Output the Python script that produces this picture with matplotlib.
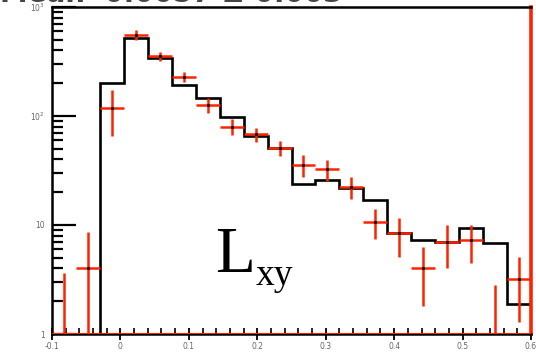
import numpy as np
import matplotlib
matplotlib.use('Agg')
import matplotlib.pyplot as plt
from matplotlib.ticker import FixedLocator, FixedFormatter, MultipleLocator

# L_xy distribution: 20 bins from -0.1 to 0.6
bin_lo = -0.1
bin_hi = 0.6
n_bins = 20

# simulation (black histogram)
mc = [0, 0, 201, 520, 341, 192, 146, 98, 66, 51,
      24, 26, 22, 17, 8.4, 7.3, 7.0, 9.4, 6.8, 1.9]

# data points with errors (red)
data = [0, 4.0, 118, 553, 355, 228, 126, 79, 68, 51,
        35.5, 32.6, 22.3, 10.7, 8.4, 4.0, 7.0, 7.3, 0, 3.2]
err_lo = [0, 4.0, 52, 55, 35, 25, 20, 12, 10, 8,
          8, 7, 5, 3.3, 3.3, 2.2, 3, 2.8, 0, 1.9]
err_hi = [3.6, 4.6, 55, 60, 35, 25, 20, 15, 10, 8,
          8, 7, 5, 3.3, 3.3, 2.3, 3, 2.8, 2.8, 1.9]

x_ticks = [-0.1, 0, 0.1, 0.2, 0.3, 0.4, 0.5, 0.6]
x_labels = ['-0.1', '0', '0.1', '0.2', '0.3', '0.4', '0.5', '0.6']
y_ticks = [1, 10, 100, 1000]
y_labels = ['1', '10', '$10^{2}$', '$10^{3}$']

edges = np.linspace(bin_lo, bin_hi, n_bins + 1)
centers = 0.5 * (edges[:-1] + edges[1:])
half_w = 0.5 * (edges[1] - edges[0])
data = np.array(data, dtype=float)

fig = plt.figure(figsize=(5.36, 3.55), dpi=100)
ax = fig.add_axes([52 / 536, 21 / 355, 479 / 536, 327 / 355])
ax.set_yscale('log')

ax.stairs(np.array(mc, dtype=float), edges, color='black', lw=1.9,
          baseline=1e-3, zorder=2)

# horizontal bars only where there is an entry
has = data > 0
ax.errorbar(centers[has], data[has], xerr=half_w,
            yerr=[np.array(err_lo)[has], np.array(err_hi)[has]],
            fmt='.', color='black', ms=2.5, ecolor='#ff2200',
            elinewidth=1.8, capsize=0, zorder=3)
ax.errorbar(centers[~has], np.full((~has).sum(), 1e-3),
            yerr=[np.zeros((~has).sum()), np.array(err_hi)[~has]],
            fmt='none', ecolor='#ff2200', elinewidth=1.8, capsize=0, zorder=3)

ax.axhline(1, color='#ff2200', lw=2.2, zorder=4)

ax.set_xlim(bin_lo, bin_hi)
ax.set_ylim(1, 1000)

ax.xaxis.set_major_locator(FixedLocator(x_ticks))
ax.xaxis.set_major_formatter(FixedFormatter(x_labels))
ax.xaxis.set_minor_locator(MultipleLocator(0.02))
ax.yaxis.set_major_locator(FixedLocator(y_ticks))
ax.yaxis.set_major_formatter(FixedFormatter(y_labels))
ax.yaxis.set_minor_locator(FixedLocator(
    [m * 10 ** e for e in range(0, 3) for m in range(2, 10)]))

ax.tick_params(axis='x', which='major', direction='inout', length=9, width=1.3,
               labelsize=5.5, labelcolor='#666666', pad=1)
ax.tick_params(axis='x', which='minor', direction='in', length=4, width=1.2)
ax.tick_params(axis='y', which='major', direction='in', length=17, width=1.6,
               labelsize=5.5, labelcolor='#666666', pad=5)
ax.tick_params(axis='y', which='minor', direction='in', length=8, width=1.6)

for side in ['left', 'top', 'bottom']:
    ax.spines[side].set_linewidth(1.8)
    ax.spines[side].set_color('black')
ax.spines['right'].set_color('#ff2200')
ax.spines['right'].set_linewidth(2.6)

fig.text(215 / 536, 1 - 272 / 355, 'L', family='Liberation Serif',
         fontsize=47, va='baseline', ha='left')
fig.text(256 / 536, 1 - 285 / 355, 'xy', family='Liberation Serif',
         fontsize=27, va='baseline', ha='left')

# statistics line above the frame, mostly outside the canvas
fig.text(0.0, 1 - 1.5 / 355, 'Mean  0.0057 \u00b1 0.003', fontsize=20,
         weight='bold', color='#444444', va='baseline', ha='left')

fig.savefig('out.png', dpi=100)
